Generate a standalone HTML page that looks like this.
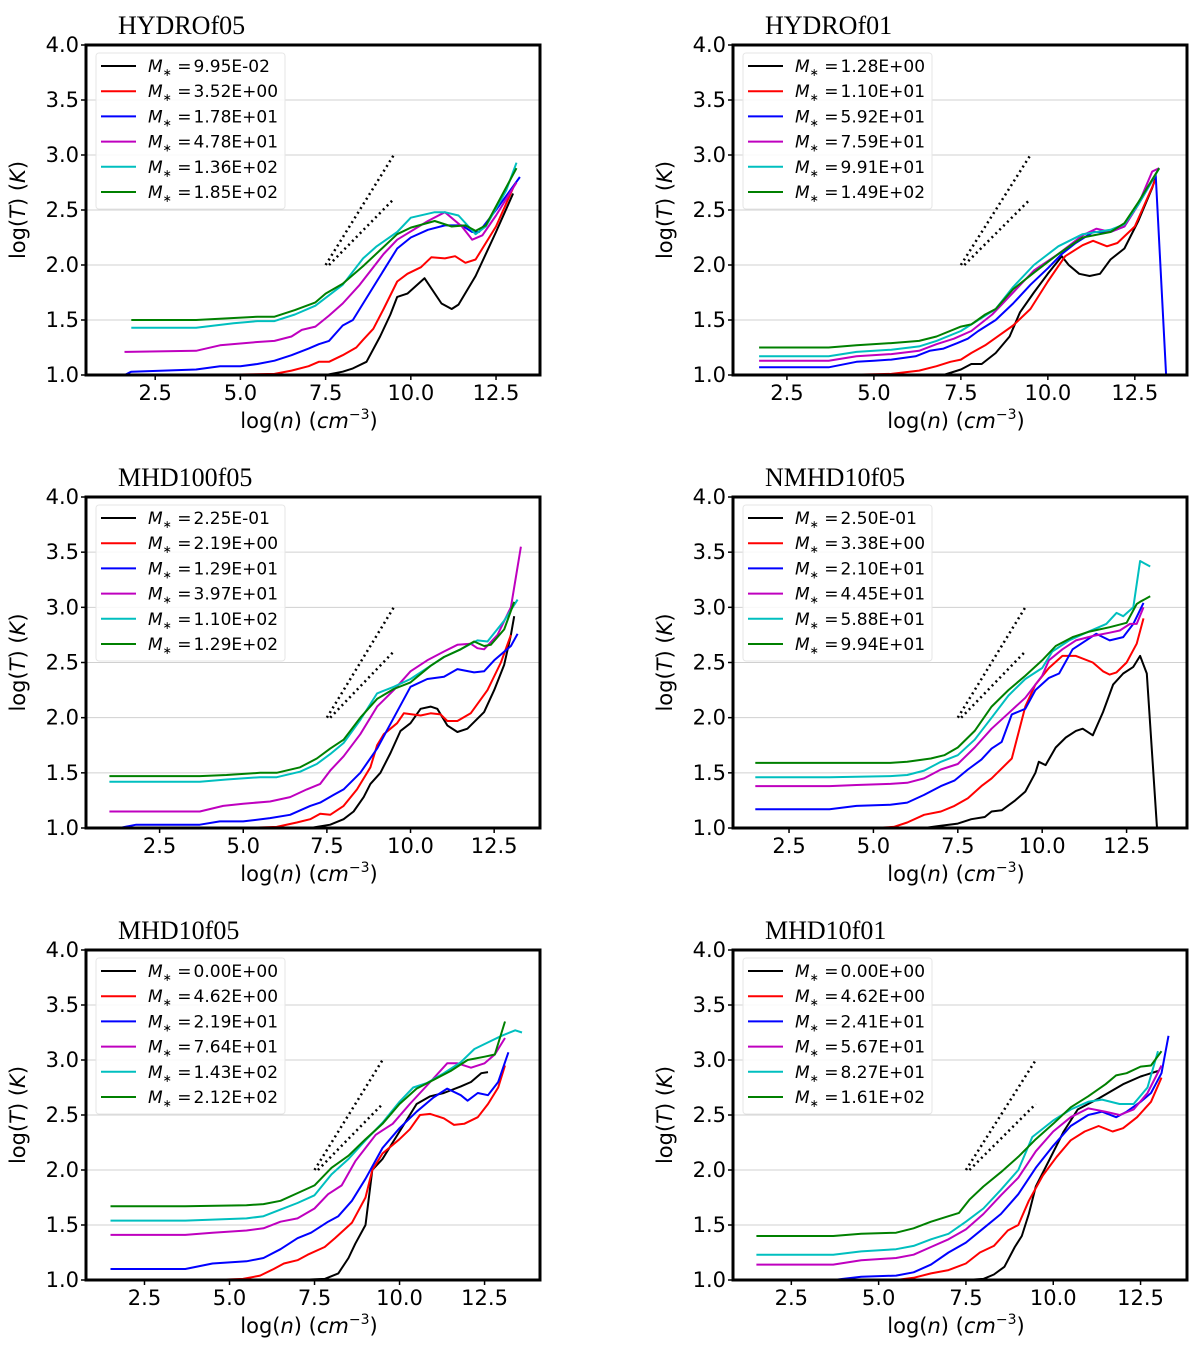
<!DOCTYPE html>
<html><head><meta charset="utf-8"><style>
html,body{margin:0;padding:0;background:#fff;}
svg text{font-family:"DejaVu Sans","Liberation Sans",sans-serif;}
</style></head><body>
<svg id="fig" width="1200" height="1347" viewBox="0 0 1200 1347" xmlns="http://www.w3.org/2000/svg"></svg>
<script>
// ---- data: [log n, log T] pairs per series ----
const hydroF05Black=[[1.5,1.0],[7.5,1.0],[8.0,1.03],[8.3,1.06],[8.7,1.12],[9.1,1.35],[9.4,1.55],[9.6,1.71],[9.9,1.74],[10.4,1.88],[10.9,1.65],[11.2,1.6],[11.4,1.64],[11.9,1.9],[12.5,2.3],[13.0,2.65]];
const hydroF05Red=[[4,1.0],[6,1.01],[6.5,1.04],[7,1.08],[7.3,1.12],[7.6,1.12],[8,1.18],[8.4,1.25],[8.6,1.32],[8.9,1.42],[9.2,1.6],[9.6,1.85],[9.9,1.92],[10.3,1.98],[10.6,2.07],[11.0,2.06],[11.3,2.08],[11.6,2.02],[11.9,2.05],[12.5,2.35],[13.0,2.7]];
const hydroF05Blue=[[1.6,1.0],[1.8,1.03],[3.7,1.05],[4.4,1.08],[5.0,1.08],[5.5,1.1],[6.0,1.13],[6.5,1.18],[7.0,1.24],[7.3,1.28],[7.6,1.31],[8.0,1.45],[8.3,1.5],[8.6,1.65],[9.0,1.85],[9.6,2.15],[10.0,2.25],[10.5,2.32],[11.0,2.36],[11.5,2.36],[11.8,2.3],[12.0,2.3],[12.5,2.5],[13.2,2.8]];
const hydroF05Magenta=[[1.6,1.21],[3.7,1.22],[4.4,1.27],[5.5,1.3],[6.0,1.31],[6.5,1.35],[6.8,1.41],[7.2,1.44],[7.6,1.54],[8.0,1.65],[8.5,1.82],[9.2,2.1],[9.6,2.23],[10.5,2.4],[11.0,2.48],[11.5,2.35],[11.8,2.23],[12.1,2.27],[12.5,2.45],[13.1,2.75]];
const hydroF05Cyan=[[1.8,1.43],[3.7,1.43],[4.8,1.47],[5.5,1.49],[6.0,1.49],[6.6,1.55],[7.2,1.63],[8.0,1.82],[8.6,2.06],[9.0,2.17],[9.6,2.3],[10.0,2.43],[10.7,2.48],[11.0,2.48],[11.4,2.45],[11.9,2.28],[12.2,2.35],[12.8,2.68],[13.1,2.93]];
const hydroF05Green=[[1.8,1.5],[3.7,1.5],[5.5,1.53],[6.0,1.53],[6.6,1.59],[7.2,1.66],[7.5,1.74],[8.0,1.83],[8.6,1.99],[9.6,2.28],[10.0,2.34],[10.7,2.4],[11.2,2.35],[11.6,2.36],[11.9,2.31],[12.2,2.36],[13.1,2.88]];

const hydroF01Black=[[1.7,1.0],[7.0,1.0],[7.5,1.05],[7.8,1.1],[8.1,1.1],[8.5,1.2],[8.9,1.35],[9.2,1.57],[9.6,1.75],[10.0,1.92],[10.4,2.08],[10.6,2.0],[10.9,1.92],[11.2,1.9],[11.5,1.92],[11.8,2.05],[12.2,2.15],[12.6,2.4],[13.0,2.7],[13.1,2.8]];
const hydroF01Red=[[4,1.0],[5.5,1.01],[6.3,1.04],[6.8,1.08],[7.2,1.12],[7.5,1.14],[7.8,1.2],[8.2,1.27],[8.6,1.36],[9.0,1.45],[9.5,1.6],[10.0,1.85],[10.5,2.08],[11.0,2.18],[11.3,2.22],[11.7,2.17],[12.0,2.2],[12.5,2.35],[13.1,2.78]];
const hydroF01Blue=[[1.7,1.07],[3.7,1.07],[4.5,1.12],[5.0,1.13],[5.5,1.14],[6.2,1.17],[6.6,1.22],[7.0,1.24],[7.4,1.29],[7.7,1.33],[8.0,1.4],[8.5,1.5],[9.0,1.65],[9.5,1.82],[10.0,1.97],[10.4,2.1],[10.8,2.2],[11.3,2.3],[11.8,2.3],[12.2,2.35],[12.6,2.55],[13.1,2.82],[13.4,1.0]];
const hydroF01Magenta=[[1.7,1.13],[3.7,1.13],[4.5,1.17],[5.5,1.19],[6.3,1.22],[6.8,1.28],[7.3,1.33],[7.8,1.4],[8.4,1.55],[9.0,1.75],[9.6,1.95],[10.3,2.1],[11.0,2.27],[11.4,2.33],[11.8,2.3],[12.2,2.35],[12.6,2.55],[13.0,2.85],[13.2,2.88]];
const hydroF01Cyan=[[1.7,1.17],[3.7,1.17],[4.5,1.21],[5.5,1.23],[6.3,1.26],[6.8,1.31],[7.5,1.4],[8.0,1.5],[8.5,1.6],[9.0,1.8],[9.6,2.0],[10.3,2.17],[11.0,2.28],[11.8,2.32],[12.2,2.37],[12.6,2.55],[13.2,2.88]];
const hydroF01Green=[[1.7,1.25],[3.7,1.25],[4.5,1.27],[5.5,1.29],[6.3,1.31],[6.8,1.35],[7.5,1.44],[7.8,1.46],[8.2,1.55],[8.5,1.6],[9.0,1.78],[9.6,1.93],[10.3,2.1],[11.0,2.25],[11.8,2.3],[12.2,2.38],[12.6,2.57],[13.2,2.88]];

const mhd100Black=[[1.0,1.0],[7.0,1.0],[7.6,1.03],[8.0,1.08],[8.3,1.15],[8.6,1.28],[8.8,1.4],[9.1,1.5],[9.4,1.68],[9.7,1.88],[10.0,1.95],[10.3,2.08],[10.6,2.1],[10.8,2.08],[11.1,1.93],[11.4,1.87],[11.7,1.9],[12.2,2.05],[12.5,2.25],[12.8,2.48],[13.0,2.75],[13.1,2.92]];
const mhd100Red=[[5,1.0],[6.0,1.01],[6.6,1.05],[7.0,1.08],[7.3,1.13],[7.6,1.12],[8.0,1.2],[8.4,1.35],[8.8,1.55],[9.0,1.75],[9.2,1.85],[9.6,1.95],[9.8,2.04],[10.3,2.02],[10.6,2.04],[10.9,2.03],[11.1,1.97],[11.4,1.97],[11.8,2.04],[12.3,2.25],[12.7,2.5],[13.0,2.75]];
const mhd100Blue=[[1.3,1.0],[1.8,1.03],[3.7,1.03],[4.3,1.06],[5.0,1.06],[5.8,1.09],[6.4,1.12],[7.0,1.2],[7.3,1.23],[7.7,1.3],[8.0,1.35],[8.5,1.5],[9.0,1.72],[9.5,2.0],[10.0,2.28],[10.5,2.35],[11.0,2.37],[11.4,2.44],[11.9,2.41],[12.2,2.42],[12.5,2.52],[13.0,2.65],[13.2,2.76]];
const mhd100Magenta=[[1.0,1.15],[3.7,1.15],[4.4,1.2],[5.0,1.22],[5.8,1.24],[6.4,1.28],[6.9,1.35],[7.3,1.4],[7.6,1.52],[8.0,1.65],[8.5,1.85],[9.0,2.1],[9.5,2.25],[10.0,2.42],[10.5,2.52],[11.0,2.6],[11.4,2.66],[11.8,2.67],[12.0,2.63],[12.2,2.62],[12.6,2.75],[13.0,3.0],[13.3,3.55]];
const mhd100Cyan=[[1.0,1.42],[3.7,1.42],[4.5,1.44],[5.5,1.46],[6.0,1.46],[6.7,1.51],[7.2,1.58],[7.6,1.67],[8.0,1.77],[8.5,1.98],[9.0,2.22],[9.5,2.28],[10.0,2.35],[10.6,2.47],[11.0,2.55],[11.5,2.62],[12.0,2.7],[12.3,2.69],[12.8,2.88],[13.2,3.07]];
const mhd100Green=[[1.0,1.47],[3.7,1.47],[4.5,1.48],[5.5,1.5],[6.0,1.5],[6.7,1.55],[7.2,1.63],[7.6,1.72],[8.0,1.8],[8.5,2.0],[9.0,2.17],[9.5,2.26],[10.0,2.32],[10.6,2.47],[11.0,2.55],[11.5,2.62],[11.9,2.69],[12.2,2.65],[12.4,2.66],[12.8,2.8],[13.1,3.05]];

const nmhdBlack=[[1.5,1.0],[6.5,1.0],[7.0,1.02],[7.5,1.04],[7.9,1.08],[8.3,1.1],[8.5,1.15],[8.8,1.16],[9.2,1.25],[9.5,1.33],[9.8,1.5],[9.9,1.6],[10.1,1.57],[10.4,1.73],[10.7,1.82],[11.0,1.88],[11.2,1.9],[11.5,1.84],[11.8,2.05],[12.1,2.3],[12.4,2.4],[12.7,2.46],[12.9,2.56],[13.1,2.4],[13.4,1.0]];
const nmhdRed=[[5,1.0],[5.6,1.01],[6.0,1.05],[6.5,1.12],[7.0,1.15],[7.4,1.2],[7.8,1.27],[8.2,1.38],[8.5,1.45],[9.1,1.63],[9.5,2.1],[9.8,2.3],[10.2,2.45],[10.6,2.56],[11.0,2.56],[11.5,2.5],[11.8,2.42],[12.0,2.39],[12.2,2.41],[12.5,2.5],[12.8,2.67],[13.0,2.9]];
const nmhdBlue=[[1.5,1.17],[3.7,1.17],[4.5,1.2],[5.5,1.21],[6.0,1.23],[6.5,1.3],[7.0,1.38],[7.4,1.43],[7.8,1.53],[8.2,1.62],[8.5,1.72],[8.8,1.78],[9.1,2.03],[9.5,2.08],[9.8,2.25],[10.2,2.36],[10.5,2.4],[10.9,2.62],[11.3,2.7],[11.6,2.76],[12.0,2.7],[12.4,2.73],[12.7,2.85],[13.0,3.04]];
const nmhdMagenta=[[1.5,1.38],[3.7,1.38],[4.5,1.39],[5.5,1.4],[6.0,1.41],[6.5,1.45],[7.0,1.53],[7.5,1.58],[8.0,1.73],[8.5,1.9],[9.0,2.04],[9.5,2.18],[10.0,2.38],[10.2,2.52],[10.6,2.62],[11.0,2.7],[11.5,2.74],[12.0,2.77],[12.3,2.79],[12.6,2.85],[12.8,2.85],[13.0,3.0]];
const nmhdCyan=[[1.5,1.46],[3.7,1.46],[5.5,1.47],[6.0,1.48],[6.5,1.52],[7.0,1.6],[7.5,1.66],[8.0,1.8],[8.5,2.0],[9.0,2.2],[9.5,2.35],[10.0,2.45],[10.3,2.6],[10.8,2.7],[11.3,2.77],[11.9,2.85],[12.2,2.95],[12.4,2.92],[12.7,3.0],[12.9,3.42],[13.2,3.37]];
const nmhdGreen=[[1.5,1.59],[3.7,1.59],[5.5,1.59],[6.0,1.6],[6.7,1.63],[7.1,1.66],[7.5,1.73],[8.0,1.88],[8.5,2.1],[9.0,2.25],[9.5,2.38],[10.0,2.52],[10.4,2.65],[10.9,2.73],[11.4,2.78],[12.0,2.82],[12.5,2.86],[12.8,3.03],[12.9,3.05],[13.2,3.1]];

const mhd10f05Black=[[1.5,1.0],[7.0,1.0],[7.8,1.01],[8.2,1.06],[8.5,1.2],[8.7,1.33],[9.0,1.5],[9.2,2.0],[9.5,2.1],[9.8,2.25],[10.2,2.45],[10.5,2.6],[10.9,2.67],[11.3,2.7],[11.8,2.76],[12.1,2.8],[12.4,2.88],[12.6,2.89]];
const mhd10f05Red=[[4.5,1.0],[5.4,1.01],[5.9,1.04],[6.3,1.1],[6.6,1.15],[7.0,1.18],[7.3,1.23],[7.8,1.3],[8.1,1.38],[8.6,1.52],[9.0,1.75],[9.2,2.0],[9.5,2.15],[10.0,2.28],[10.3,2.37],[10.6,2.5],[10.9,2.51],[11.3,2.47],[11.6,2.41],[11.9,2.42],[12.3,2.48],[12.6,2.6],[12.9,2.75],[13.1,2.95]];
const mhd10f05Blue=[[1.5,1.1],[3.7,1.1],[4.5,1.15],[5.5,1.17],[6.0,1.2],[6.5,1.28],[7.0,1.38],[7.4,1.43],[7.9,1.53],[8.2,1.58],[8.6,1.72],[9.0,1.92],[9.5,2.2],[10.0,2.38],[10.5,2.53],[11.0,2.66],[11.4,2.74],[11.8,2.68],[12.0,2.63],[12.3,2.7],[12.6,2.68],[12.9,2.8],[13.2,3.07]];
const mhd10f05Magenta=[[1.5,1.41],[3.7,1.41],[4.5,1.43],[5.5,1.45],[6.0,1.47],[6.5,1.53],[7.0,1.56],[7.5,1.65],[7.9,1.78],[8.3,1.86],[8.7,2.08],[9.3,2.32],[9.8,2.42],[10.3,2.6],[10.9,2.8],[11.4,2.97],[11.7,2.97],[12.1,2.93],[12.5,2.97],[12.8,3.05],[13.1,3.2]];
const mhd10f05Cyan=[[1.5,1.54],[3.7,1.54],[5.5,1.56],[6.0,1.58],[6.5,1.64],[7.0,1.7],[7.5,1.77],[8.0,1.96],[8.5,2.1],[9.0,2.27],[9.5,2.43],[10.0,2.62],[10.4,2.75],[10.8,2.79],[11.3,2.88],[11.8,2.98],[12.2,3.1],[12.6,3.16],[13.0,3.22],[13.4,3.27],[13.6,3.25]];
const mhd10f05Green=[[1.5,1.67],[3.7,1.67],[5.5,1.68],[6.0,1.69],[6.5,1.72],[7.0,1.79],[7.5,1.86],[8.0,2.02],[8.5,2.13],[9.0,2.28],[9.5,2.42],[10.0,2.6],[10.5,2.74],[11.0,2.82],[11.5,2.9],[12.0,3.0],[12.5,3.03],[12.8,3.05],[13.1,3.35]];

const mhd10f01Black=[[1.5,1.0],[7.5,1.0],[8.0,1.01],[8.3,1.05],[8.6,1.12],[8.9,1.3],[9.1,1.4],[9.3,1.6],[9.5,1.85],[9.9,2.1],[10.3,2.35],[10.7,2.55],[11.3,2.65],[12.0,2.78],[12.5,2.85],[13.0,2.9]];
const mhd10f01Red=[[5.5,1.0],[6.0,1.02],[6.5,1.06],[7.0,1.09],[7.5,1.15],[7.9,1.25],[8.3,1.31],[8.7,1.45],[9.0,1.5],[9.3,1.72],[9.7,1.95],[10.1,2.12],[10.5,2.27],[10.9,2.35],[11.3,2.4],[11.7,2.35],[12.0,2.38],[12.4,2.48],[12.8,2.62],[13.1,2.84]];
const mhd10f01Blue=[[3.7,1.0],[4.5,1.03],[5.5,1.04],[6.0,1.07],[6.5,1.14],[7.0,1.25],[7.5,1.34],[8.0,1.47],[8.5,1.6],[9.0,1.78],[9.5,2.02],[10.0,2.22],[10.5,2.4],[11.0,2.5],[11.4,2.53],[11.8,2.48],[12.1,2.53],[12.5,2.62],[12.8,2.7],[13.1,2.88],[13.3,3.22]];
const mhd10f01Magenta=[[1.5,1.14],[3.7,1.14],[4.5,1.18],[5.5,1.2],[6.0,1.23],[6.5,1.3],[7.0,1.37],[7.5,1.46],[8.0,1.6],[8.5,1.77],[9.0,1.93],[9.5,2.17],[10.0,2.35],[10.5,2.48],[11.0,2.56],[11.5,2.53],[11.9,2.5],[12.3,2.55],[12.7,2.7],[13.1,2.95]];
const mhd10f01Cyan=[[1.5,1.23],[3.7,1.23],[4.5,1.26],[5.5,1.28],[6.0,1.31],[6.5,1.37],[7.0,1.42],[7.5,1.53],[8.0,1.65],[8.5,1.82],[9.0,2.0],[9.4,2.3],[10.0,2.45],[10.5,2.55],[11.0,2.62],[11.4,2.64],[11.9,2.6],[12.3,2.6],[12.7,2.75],[13.0,3.08]];
const mhd10f01Green=[[1.5,1.4],[3.7,1.4],[4.5,1.42],[5.5,1.43],[6.0,1.47],[6.5,1.53],[7.0,1.58],[7.3,1.61],[7.6,1.73],[8.0,1.85],[8.5,1.98],[9.0,2.12],[9.5,2.28],[10.0,2.42],[10.5,2.57],[11.0,2.67],[11.5,2.78],[11.8,2.86],[12.1,2.88],[12.5,2.94],[12.8,2.95],[13.1,3.08]];

const hydroF05Labels=["9.95E-02","3.52E+00","1.78E+01","4.78E+01","1.36E+02","1.85E+02"];
const hydroF01Labels=["1.28E+00","1.10E+01","5.92E+01","7.59E+01","9.91E+01","1.49E+02"];
const mhd100Labels=["2.25E-01","2.19E+00","1.29E+01","3.97E+01","1.10E+02","1.29E+02"];
const nmhdLabels=["2.50E-01","3.38E+00","2.10E+01","4.45E+01","5.88E+01","9.94E+01"];
const mhd10f05Labels=["0.00E+00","4.62E+00","2.19E+01","7.64E+01","1.43E+02","2.12E+02"];
const mhd10f01Labels=["0.00E+00","4.62E+00","2.41E+01","5.67E+01","8.27E+01","1.61E+02"];
const xTicks=[2.5,5.0,7.5,10.0,12.5];
const yTicks=[1.0,1.5,2.0,2.5,3.0,3.5,4.0];
const refSlopes=[[7.5,2.0,9.5,3.0],[7.6,2.0,9.5,2.6]];

const colors=["#000000","#ff0000","#0000ff","#bf00bf","#00bfbf","#008000"];
const panels=[
 {name:"HYDROf05",L:86,R:540,T:45,B:375,xmin:0.47,xmax:13.79,series:[hydroF05Black,hydroF05Red,hydroF05Blue,hydroF05Magenta,hydroF05Cyan,hydroF05Green],labels:hydroF05Labels},
 {name:"HYDROf01",L:733,R:1187,T:45,B:375,xmin:0.95,xmax:14.0,series:[hydroF01Black,hydroF01Red,hydroF01Blue,hydroF01Magenta,hydroF01Cyan,hydroF01Green],labels:hydroF01Labels},
 {name:"MHD100f05",L:86,R:540,T:497,B:828,xmin:0.3,xmax:13.87,series:[mhd100Black,mhd100Red,mhd100Blue,mhd100Magenta,mhd100Cyan,mhd100Green],labels:mhd100Labels},
 {name:"NMHD10f05",L:733,R:1187,T:497,B:828,xmin:0.84,xmax:14.29,series:[nmhdBlack,nmhdRed,nmhdBlue,nmhdMagenta,nmhdCyan,nmhdGreen],labels:nmhdLabels},
 {name:"MHD10f05",L:86,R:540,T:950,B:1280,xmin:0.78,xmax:14.13,series:[mhd10f05Black,mhd10f05Red,mhd10f05Blue,mhd10f05Magenta,mhd10f05Cyan,mhd10f05Green],labels:mhd10f05Labels},
 {name:"MHD10f01",L:733,R:1187,T:950,B:1280,xmin:0.83,xmax:13.83,series:[mhd10f01Black,mhd10f01Red,mhd10f01Blue,mhd10f01Magenta,mhd10f01Cyan,mhd10f01Green],labels:mhd10f01Labels}
];
const NS="http://www.w3.org/2000/svg";
const svg=document.getElementById('fig');
function mk(tag,attrs,parent){const e=document.createElementNS(NS,tag);for(const k in attrs)e.setAttribute(k,attrs[k]);(parent||svg).appendChild(e);return e;}
panels.forEach((p,pi)=>{
  const sx=v=>p.L+(v-p.xmin)/(p.xmax-p.xmin)*(p.R-p.L);
  const sy=v=>p.B-(v-1)/3*(p.B-p.T);
  const g=mk('g',{});
  
  
  const cp=mk('clipPath',{id:'clip'+pi},g);
  mk('rect',{x:p.L,y:p.T,width:p.R-p.L,height:p.B-p.T},cp);
  yTicks.forEach(t=>{
    const gl=mk('line',{x1:p.L,x2:p.R,y1:sy(t),y2:sy(t),stroke:'#d0d0d0','stroke-width':1},g);
    
    
    mk('line',{x1:p.L-5,x2:p.L,y1:sy(t),y2:sy(t),stroke:'#000','stroke-width':1.5},g);
    const tx=mk('text',{x:p.L-7,y:sy(t)+7,'text-anchor':'end','font-size':21},g);
    tx.textContent=t.toFixed(1);
    
    
  });
  xTicks.forEach(t=>{
    mk('line',{x1:sx(t),x2:sx(t),y1:p.B,y2:p.B+5,stroke:'#000','stroke-width':1.5},g);
    const tx=mk('text',{x:sx(t),y:p.B+25,'text-anchor':'middle','font-size':21},g);
    tx.textContent=t.toFixed(1);
    
    
  });
  refSlopes.forEach(r=>{
    const l=mk('line',{x1:sx(r[0]),y1:sy(r[1]),x2:sx(r[2]),y2:sy(r[3]),stroke:'#000','stroke-width':2.5,'stroke-dasharray':'2 3.5'},g);
    
    
  });
  const sg=mk('g',{'clip-path':'url(#clip'+pi+')'},g);
  p.series.forEach((s,si)=>{
    const d=s.map((pt,i)=>(i?'L':'M')+sx(pt[0]).toFixed(1)+','+sy(pt[1]).toFixed(1)).join(' ');
    const path=mk('path',{d:d,fill:'none',stroke:colors[si],'stroke-width':2,'stroke-linejoin':'round'},sg);
    
    
  });
  const lg=mk('g',{},g);
  
  
  mk('rect',{x:p.L+10,y:p.T+8,width:189,height:156,fill:'#fff','fill-opacity':0.85,stroke:'#e6e6e6','stroke-width':1,rx:3},lg);
  p.labels.forEach((lab,i)=>{
    const y=p.T+21+i*25.2;
    mk('line',{x1:p.L+15,x2:p.L+50,y1:y,y2:y,stroke:colors[i],'stroke-width':2},lg);
    const t=mk('text',{x:p.L+62,y:y+6,'font-size':17},lg);
    
    
    t.innerHTML='<tspan font-style="italic">M</tspan><tspan font-size="11" dy="4">∗</tspan><tspan dy="-4"> =</tspan><tspan dx="2">'+lab+'</tspan>';
  });
  const fr=mk('rect',{x:p.L,y:p.T,width:p.R-p.L,height:p.B-p.T,fill:'none',stroke:'#000','stroke-width':3},g);
  
  
  const tt=mk('text',{x:p.L+32,y:p.T-11,'font-size':26,style:'font-family:"Liberation Serif",serif'},g);
  tt.textContent=p.name;
  
  
  const yt=mk('text',{x:0,y:0,'font-size':21,'text-anchor':'middle',transform:'translate('+(p.L-61)+','+((p.T+p.B)/2)+') rotate(-90)'},g);
  yt.innerHTML='log(<tspan font-style="italic">T</tspan>) (<tspan font-style="italic">K</tspan>)';
  
  
  const xt=mk('text',{x:(p.L+p.R)/2-4,y:p.B+53,'font-size':21,'text-anchor':'middle'},g);
  xt.innerHTML='log(<tspan font-style="italic">n</tspan>) (<tspan font-style="italic">cm</tspan><tspan font-size="14" dy="-9">−3</tspan><tspan dy="9">)</tspan>';
  
  
});
</script>
</body></html>
